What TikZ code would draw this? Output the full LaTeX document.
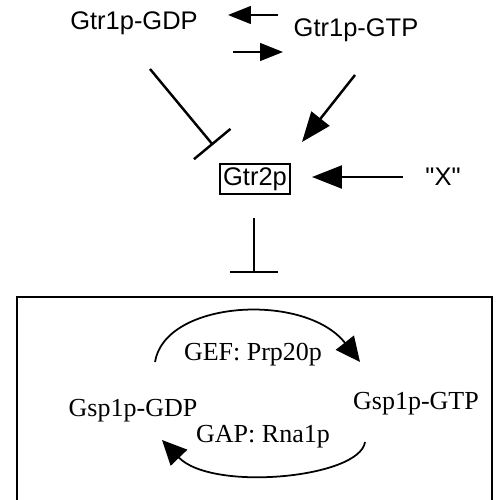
\documentclass[tikz,border=0pt]{standalone}
\usepackage{fontspec}
\setmainfont{Liberation Serif}
\newfontfamily\helv{Liberation Sans}
\usetikzlibrary{arrows.meta}

\tikzset{
	sanslabel/.style={font=\helv\fontsize{14.5}{17}\selectfont, inner sep=1pt},
	seriflabel/.style={font=\fontsize{14.8}{17}\selectfont, inner sep=1pt},
	activate/.style={line width=1.4pt, -{Triangle[length=13pt, width=10pt]}},
	bigactivate/.style={line width=1.4pt, -{Triangle[length=17pt, width=13pt]}},
	inhibit/.style={line width=1.4pt, -{Bar[width=27pt, line width=1.4pt]}},
	cycle/.style={line width=1pt, -{Triangle[length=14pt, width=13pt]}},
}

\begin{document}
\begin{tikzpicture}[x=0.02cm, y=-0.02cm]
		\useasboundingbox (0,0) rectangle (495,500);
		% Gtr1p / Gtr2p part:
		\node[sanslabel] (gdp) at (134, 23){Gtr1p-GDP};
		\node[sanslabel] (gtp) at (356, 30){Gtr1p-GTP};
		\node[sanslabel, draw, line width=1pt, inner sep=2pt] (gtr2) at (255, 179){Gtr2p};
		\node[sanslabel] (xsig) at (443, 177){"X"};
		\coordinate (back1) at (278, 15);
		\coordinate (back2) at (228, 15);
		\coordinate (fwd1) at (233, 52);
		\coordinate (fwd2) at (283, 52);
		\coordinate (gdpstart) at (150, 69);
		\coordinate (gdpend) at (213, 145);
		\coordinate (gtpstart) at (355, 75);
		\coordinate (gtpend) at (302, 142);
		\coordinate (xstart) at (403, 177);
		\coordinate (xend) at (312, 177);
		\coordinate (gtr2start) at (254, 218);
		\coordinate (gtr2end) at (254, 273);
		\draw[activate] (back1) -- (back2);
		\draw[activate] (fwd1) -- (fwd2);
		\draw[inhibit] (gdpstart) -- (gdpend);
		\draw[bigactivate] (gtpstart) -- (gtpend);
		\draw[bigactivate] (xstart) -- (xend);
		\draw[inhibit] (gtr2start) -- (gtr2end);
		% Gsp1p cycle:
		\draw[line width=1.1pt] (17, 501) -- (17, 297) -- (492, 297) -- (492, 501);
		\node[seriflabel] (gef) at (253, 355){GEF: Prp20p};
		\node[seriflabel] (gspgdp) at (133, 411){Gsp1p-GDP};
		\node[seriflabel] (gspgtp) at (416, 404){Gsp1p-GTP};
		\node[seriflabel] (gap) at (263, 437){GAP: Rna1p};
		\coordinate (topstart) at (155, 362);
		\coordinate (topend) at (360, 362);
		\coordinate (botstart) at (365, 442);
		\coordinate (botend) at (162, 440);
		\draw[cycle] (topstart) .. controls (165, 300) and (305, 292) .. (topend);
		\draw[cycle] (botstart) .. controls (360, 478) and (212, 492) .. (botend);
	\end{tikzpicture}
\end{document}
